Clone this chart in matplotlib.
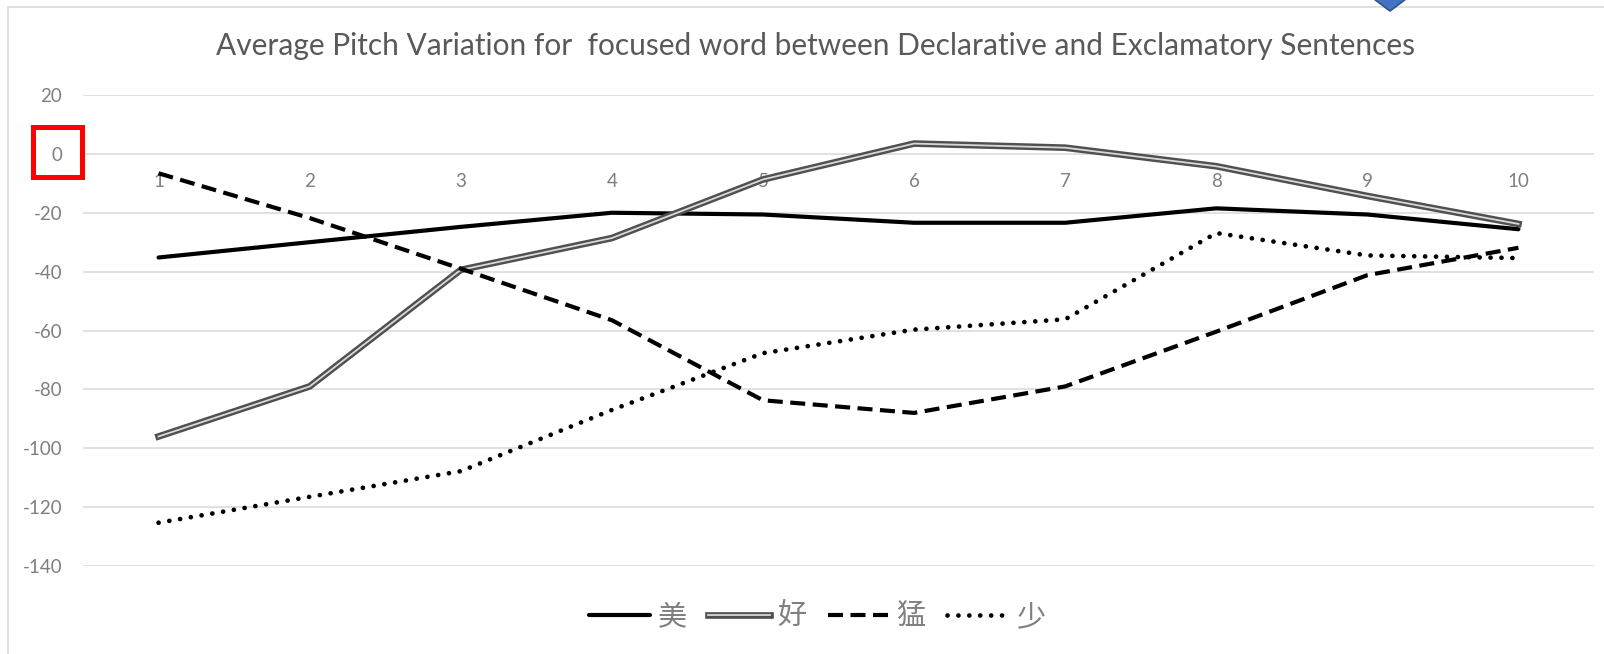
import matplotlib.pyplot as plt
import matplotlib.patheffects as pe
from matplotlib.patches import Rectangle, Polygon

plt.rcParams["axes.unicode_minus"] = False

# positions 1..10 along the focused word
positions = [1, 2, 3, 4, 5, 6, 7, 8, 9, 10]

mei = [-35.2, -30.0, -24.8, -20.0, -20.6, -23.4, -23.4, -18.5, -20.6, -25.6]
hao = [-96.0, -79.0, -39.4, -28.6, -8.7, 3.5, 2.1, -4.2, -14.3, -23.8]
meng = [-6.6, -21.8, -39.0, -56.5, -83.7, -88.0, -79.0, -60.4, -41.2, -31.9]
shao = [-125.3, -116.5, -107.8, -87.0, -67.7, -59.7, -56.2, -26.9, -34.5, -35.4]

series_names = ["美", "好", "猛", "少"]
y_ticks = [20, 0, -20, -40, -60, -80, -100, -120, -140]

title = "Average Pitch Variation for  focused word between Declarative and Exclamatory Sentences"

W, H = 1604, 654
fig = plt.figure(figsize=(W / 100, H / 100), dpi=100)
fig.patch.set_facecolor("white")

# chart frame (only left and top edges fall inside the canvas)
fig.patches.append(Rectangle((8 / W, -0.1), 1.2, (H - 7) / H + 0.1,
                             transform=fig.transFigure, fill=False,
                             edgecolor="#d9d9d9", linewidth=1.2))

ax = fig.add_axes([83 / W, 1 - 566 / H, (1594 - 83) / W, (566 - 95) / H])
ax.set_xlim(0.5, 10.5)
ax.set_ylim(-140, 20)
ax.set_yticks(y_ticks)
ax.set_xticks(positions)
ax.set_xticklabels([str(p) for p in positions])
ax.grid(axis="y", color="#d9d9d9", linewidth=1.1)
ax.set_axisbelow(True)
for s in ["left", "right", "top"]:
    ax.spines[s].set_visible(False)
ax.spines["bottom"].set_position(("data", 0))
ax.spines["bottom"].set_color("none")
ax.tick_params(axis="x", length=0, pad=14, labelsize=13.5, labelcolor="#7f7f7f")
ax.tick_params(axis="y", length=0, pad=15, labelsize=13.5, labelcolor="#7f7f7f")
for lab in ax.get_xticklabels() + ax.get_yticklabels():
    lab.set_fontfamily("Lato")

ax.plot(positions, mei, color="black", linewidth=3.0, solid_capstyle="round",
        label=series_names[0])
ax.plot(positions, hao, color="#d8d8d8", linewidth=1.3, label=series_names[1],
        path_effects=[pe.Stroke(linewidth=4.8, foreground="#505050"), pe.Normal()])
ax.plot(positions, meng, color="black", linewidth=3.0, linestyle=(0, (3.6, 1.8)),
        label=series_names[2])
ax.plot(positions, shao, color="black", linewidth=3.4, linestyle=(0, (0.01, 2.3)),
        dash_capstyle="round", label=series_names[3])

fig.text(816 / W, 1 - 46 / H, title, ha="center", va="center",
         fontsize=21.5, color="#595959", fontfamily="Lato")

leg = fig.legend(loc="center", bbox_to_anchor=(817 / W, 1 - 617 / H), ncol=4,
                 frameon=False, handlelength=2.1, handletextpad=0.25,
                 columnspacing=0.75,
                 prop={"family": ["Noto Sans CJK SC", "DejaVu Sans"], "size": 21})
for t in leg.get_texts():
    t.set_color("#7f7f7f")

# red highlight box around the zero label
fig.patches.append(Rectangle((32.5 / W, 1 - 176.5 / H), (81.7 - 32.5) / W,
                             (176.5 - 126.8) / H, transform=fig.transFigure,
                             fill=False, edgecolor="#ff0000", linewidth=3.6))

# blue marker tip at the top edge
fig.patches.append(Polygon([(1370 / W, 1 + 4 / H), (1410 / W, 1 + 4 / H),
                            (1390 / W, 1 - 11 / H)], closed=True,
                           transform=fig.transFigure, facecolor="#4472c4",
                           edgecolor="#2f528f", linewidth=1.2))

fig.savefig("out.png", dpi=100, facecolor="white")
